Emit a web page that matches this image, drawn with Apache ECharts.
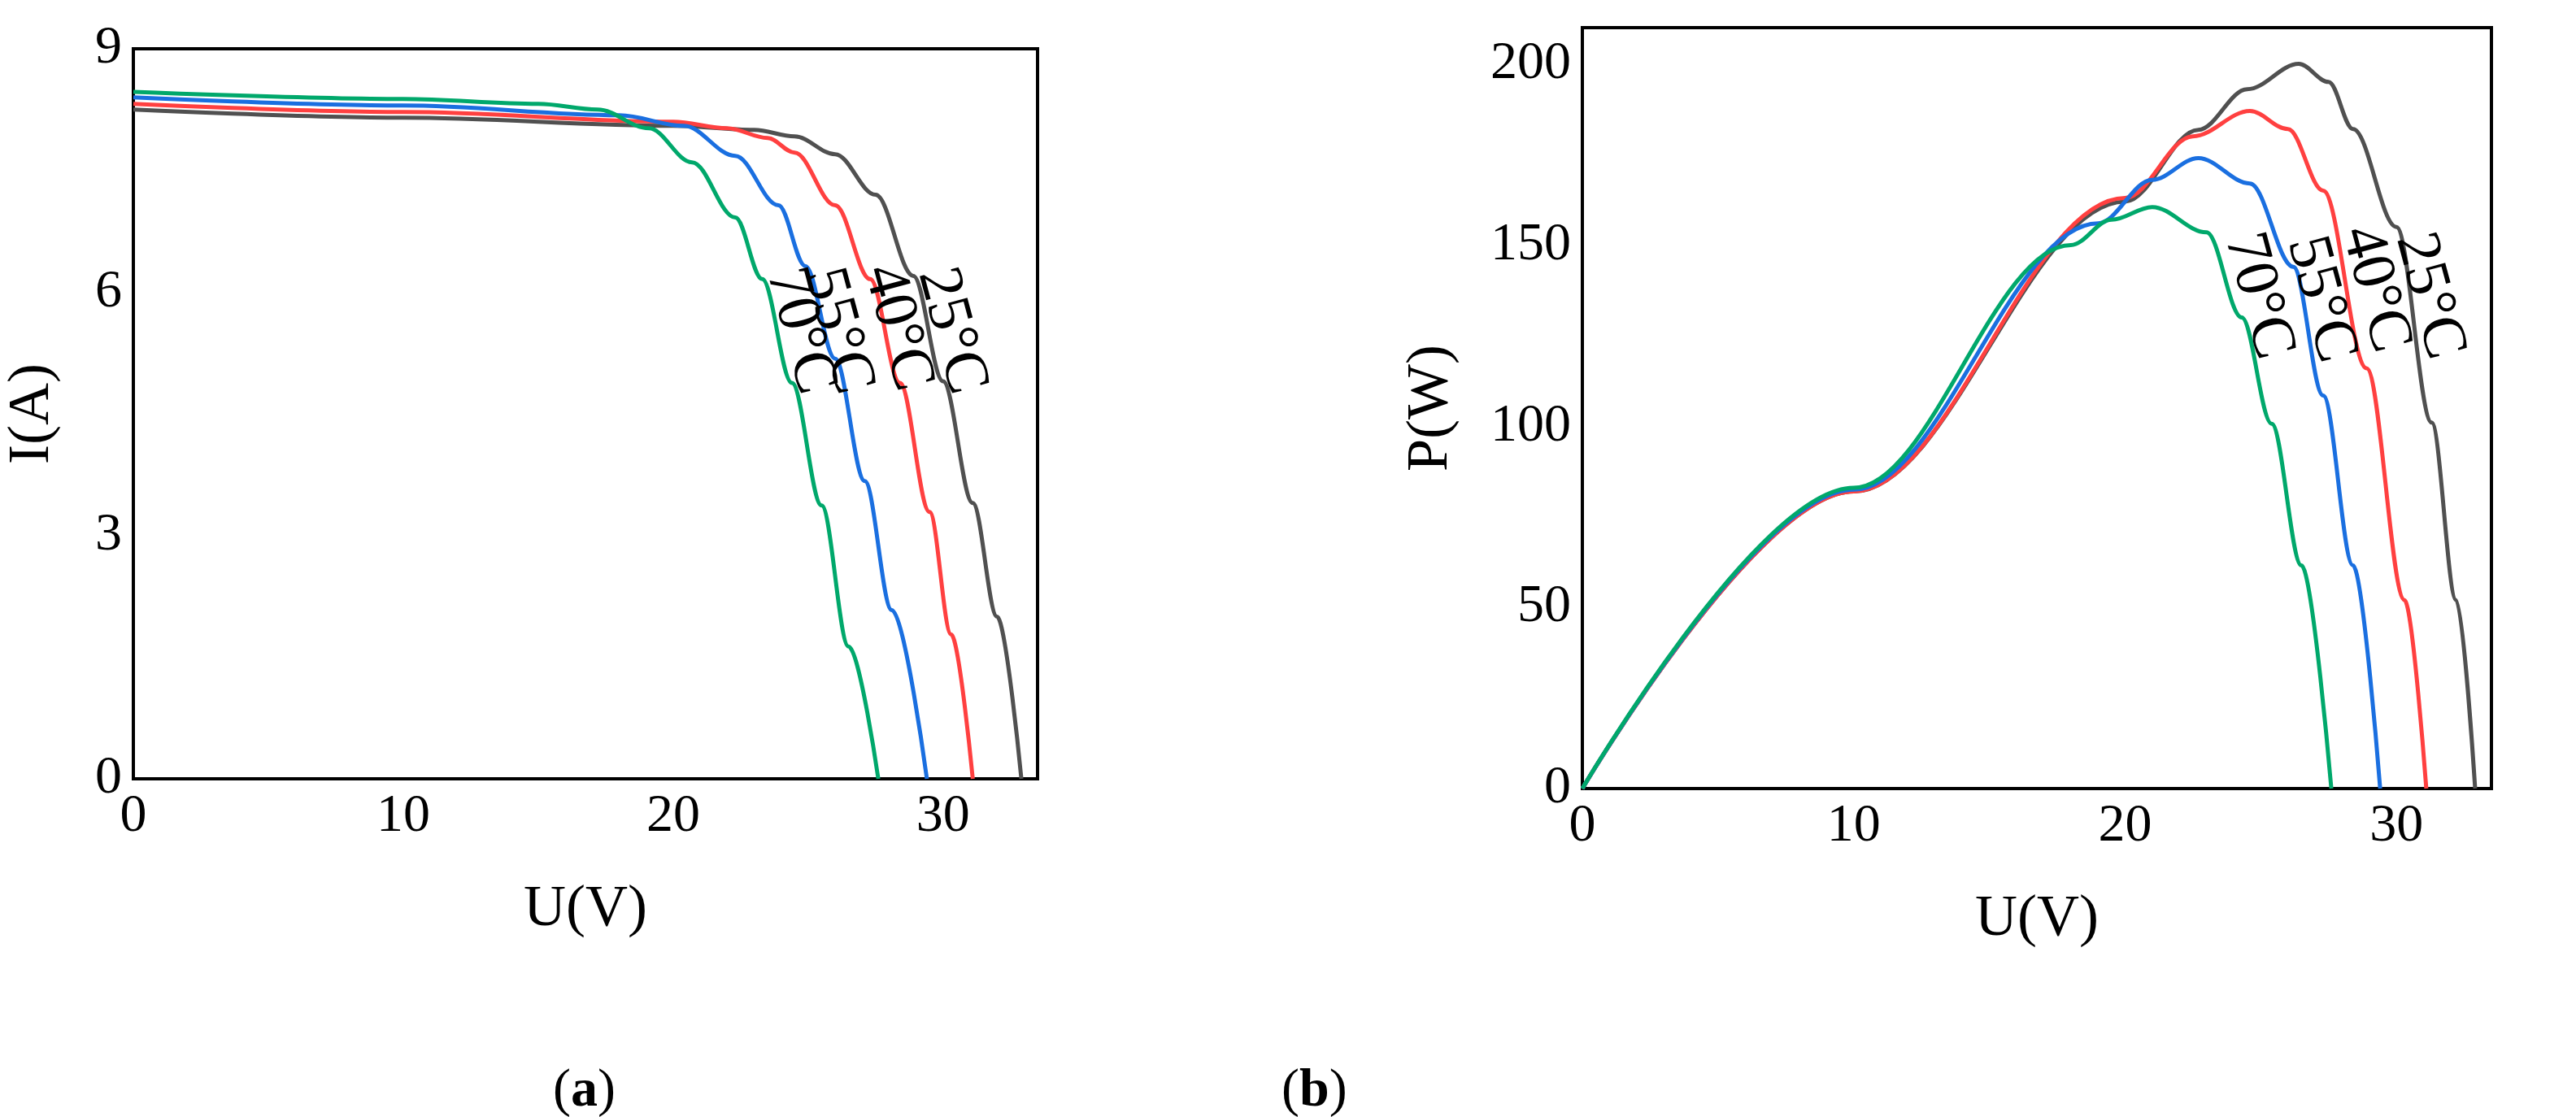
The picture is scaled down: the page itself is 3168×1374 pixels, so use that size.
<!DOCTYPE html>
<html><head><meta charset="utf-8">
<script src="https://cdn.jsdelivr.net/npm/echarts@6/dist/echarts.min.js"></script>
<style>html,body{margin:0;background:#fff}#c{width:3168px;height:1374px}</style>
</head><body><div id="c"></div>
<script>
const temps = ['25°C','40°C','55°C','70°C'];
const colors = ['#505050','#ff4040','#1a6fe0','#00a86b'];
const iv25 = [[0,8.25],[10,8.15],[20,8.05],[23,8.0],[24.5,7.92],[26,7.7],[27.5,7.2],[28.9,6.2],[30,4.9],[31.1,3.4],[32,2.0],[32.9,0]];
const iv40 = [[0,8.32],[10,8.22],[20,8.1],[22,8.02],[23.5,7.9],[24.5,7.72],[26,7.07],[27.3,6.16],[28.4,4.88],[29.5,3.29],[30.3,1.78],[31.1,0]];
const iv55 = [[0,8.4],[10,8.3],[18,8.18],[20.4,8.05],[22.3,7.68],[23.9,7.07],[24.9,6.32],[26,5.18],[27.1,3.67],[28.1,2.08],[29.4,0]];
const iv70 = [[0,8.47],[10,8.38],[15,8.32],[17.2,8.25],[19.1,8.02],[20.7,7.6],[22.3,6.92],[23.3,6.16],[24.4,4.88],[25.5,3.37],[26.5,1.63],[27.6,0]];
const pv25 = [[0,0],[10,82],[20,162],[22.7,181.8],[24.5,193],[26.4,200],[27.5,195],[28.4,182],[30,155],[31.3,101],[32.2,52],[32.9,0]];
const pv40 = [[0,0],[10,82],[20,163],[22.5,180],[24.6,187],[26,182],[27.3,165],[28.9,116],[30.3,52],[31.1,0]];
const pv55 = [[0,0],[10,82.5],[19,156],[21,168],[22.7,174],[24.6,167],[26.2,144],[27.3,108.5],[28.4,61.6],[29.4,0]];
const pv70 = [[0,0],[10,83],[18,150],[19.5,157],[21,160.5],[23,153.5],[24.3,130],[25.4,100.7],[26.5,61.6],[27.6,0]];
const ivLabelPos = [[30.3,5.52],[28.3,5.56],[26.1,5.52],[24.7,5.52]];
const pvLabelPos = [[31.2,135.9],[29.2,137.8],[27.2,135],[24.9,135.9]];
const ivSets = [iv25,iv40,iv55,iv70];
const pvSets = [pv25,pv40,pv55,pv70];

const F = 'Liberation Serif';
function xAx(idx){return {type:'value',gridIndex:idx,min:0,max:33.5,interval:10,name:'U(V)',nameLocation:'middle',nameGap:125,
  nameTextStyle:{fontFamily:F,fontSize:72,color:'#000'},axisLine:{show:false},axisTick:{show:false},splitLine:{show:false},
  axisLabel:{fontFamily:F,fontSize:66,color:'#000',showMaxLabel:false,margin:14}};}
function yAx(idx,max,interval,name,gap){return {type:'value',gridIndex:idx,min:0,max:max,interval:interval,name:name,nameLocation:'middle',nameGap:gap,
  nameTextStyle:{fontFamily:F,fontSize:72,color:'#000'},axisLine:{show:false},axisTick:{show:false},splitLine:{show:false},
  axisLabel:{fontFamily:F,fontSize:66,color:'#000',margin:14,showMaxLabel:max===9}};}
const series=[];
function add(sets,pos,idx){
  sets.forEach((d,i)=>series.push({type:'line',xAxisIndex:idx,yAxisIndex:idx,data:d,smooth:0.35,smoothMonotone:'x',symbol:'none',
    lineStyle:{color:colors[i],width:5},z:3,
    markPoint:{symbol:'circle',symbolSize:1,itemStyle:{color:'transparent'},
      label:{show:true,formatter:temps[i],rotate:-75,fontFamily:F,fontSize:76,color:'#000',position:'inside'},
      data:[{coord:pos[i]}]}}));
}
add(ivSets,ivLabelPos,0);add(pvSets,pvLabelPos,1);
const chart=echarts.init(document.getElementById('c'));
chart.setOption({animation:false,backgroundColor:'#fff',
  grid:[{left:164,top:60,width:1112,height:898,show:true,borderColor:'#000',borderWidth:4,backgroundColor:'transparent'},
        {left:1946,top:34,width:1118,height:936,show:true,borderColor:'#000',borderWidth:4,backgroundColor:'transparent'}],
  xAxis:[xAx(0),xAx(1)],
  yAxis:[yAx(0,9,3,'I(A)',88),yAx(1,210,50,'P(W)',150)],
  series:series,
  graphic:[
    {type:'text',left:680,top:1310,style:{text:'({b|a})',font:'66px "Liberation Serif"',fill:'#000',rich:{b:{fontFamily:F,fontSize:66,fontWeight:'bold'}}}},
    {type:'text',left:1576,top:1310,style:{text:'({b|b})',font:'66px "Liberation Serif"',fill:'#000',rich:{b:{fontFamily:F,fontSize:66,fontWeight:'bold'}}}}
  ]
});
</script></body></html>
